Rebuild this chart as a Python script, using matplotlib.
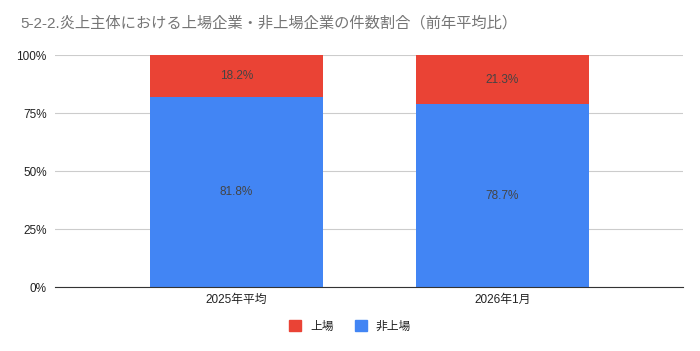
import matplotlib.pyplot as plt
from matplotlib.patches import Patch

plt.rcParams['font.family'] = ['Liberation Sans', 'Noto Sans CJK JP']

categories = ['2025年平均', '2026年1月']
listed = [18.2, 21.3]
unlisted = [81.8, 78.7]
series_names = ['上場', '非上場']
title = '5-2-2.炎上主体における上場企業・非上場企業の件数割合（前年平均比）'

blue = '#4285F4'
red = '#EA4335'

fig = plt.figure(figsize=(7, 3.51), dpi=100)
ax = fig.add_axes([0.0786, 0.1823, 0.8971, 0.661])

x = range(len(categories))
ax.bar(x, unlisted, width=0.65, color=blue, zorder=2)
ax.bar(x, listed, width=0.65, bottom=unlisted, color=red, zorder=2)

for i in x:
    ax.text(i, unlisted[i] / 2, f'{unlisted[i]:.1f}%', ha='center', va='center',
            fontsize=8.5, color='#444444', zorder=3)
    ax.text(i, unlisted[i] + listed[i] / 2, f'{listed[i]:.1f}%', ha='center', va='center',
            fontsize=8.5, color='#444444', zorder=3)

ax.set_xlim(-0.682, 1.679)
ax.set_ylim(0, 100)
ax.set_yticks([0, 25, 50, 75, 100])
ax.set_yticklabels(['0%', '25%', '50%', '75%', '100%'])
ax.set_xticks(list(x))
ax.set_xticklabels(categories)
ax.tick_params(axis='both', length=0, labelsize=8.5, labelcolor='#222222')
ax.tick_params(axis='y', pad=6)
ax.tick_params(axis='x', pad=5)
ax.grid(axis='y', color='#cccccc', linewidth=0.8, zorder=0)
for s in ['top', 'right', 'left']:
    ax.spines[s].set_visible(False)
ax.spines['bottom'].set_color('#333333')
ax.spines['bottom'].set_zorder(3)

fig.text(0.029, 0.935, title, fontsize=11, color='#757575', ha='left', va='center')

handles = [Patch(color=red, label=series_names[0]), Patch(color=blue, label=series_names[1])]
fig.legend(handles=handles, loc='center', bbox_to_anchor=(0.5, 0.07), ncol=2,
           frameon=False, fontsize=8.5, handlelength=1.0, handleheight=1.0,
           columnspacing=1.8, handletextpad=0.8, labelcolor='#222222')

fig.savefig('out.png', dpi=100)
